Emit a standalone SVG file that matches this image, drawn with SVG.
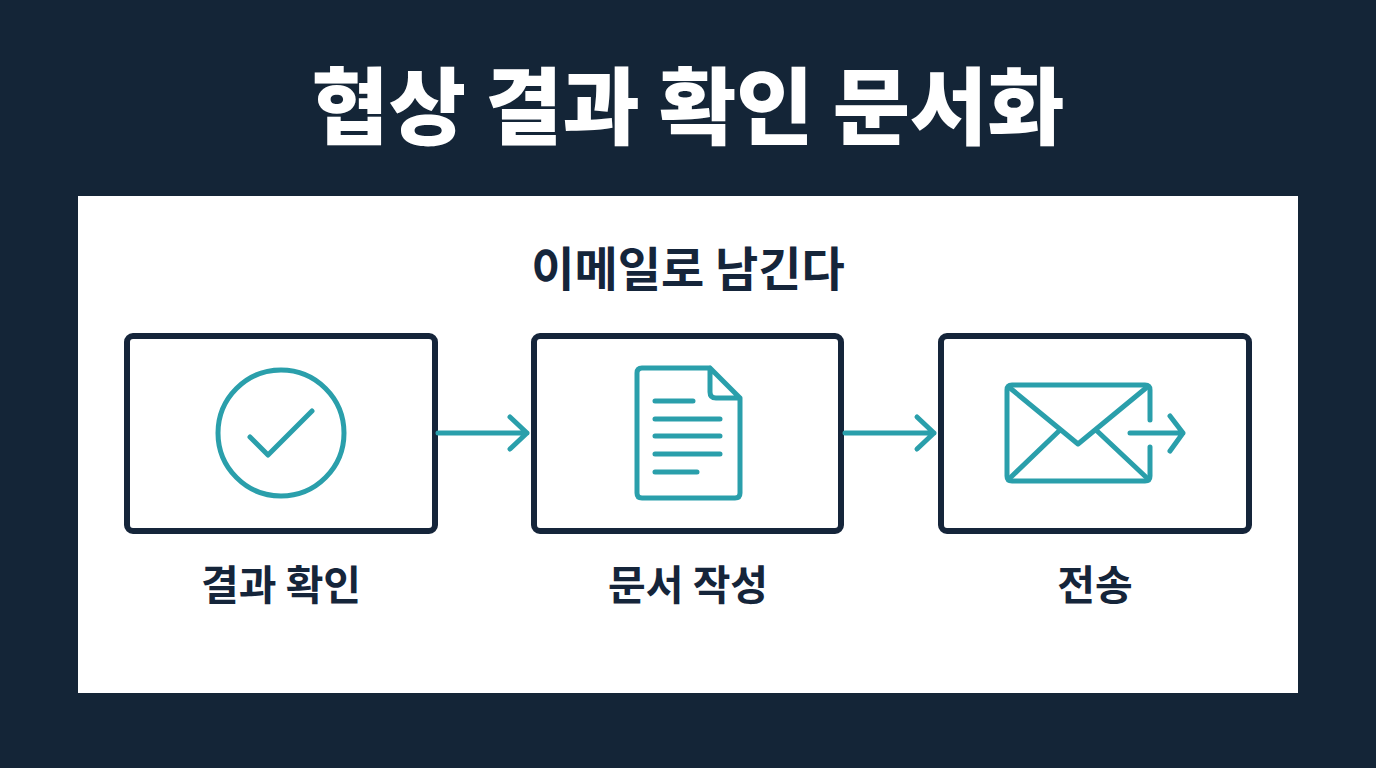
<svg xmlns="http://www.w3.org/2000/svg" width="1376" height="768" viewBox="0 0 1376 768">
<style>
.t{font-family:"Noto Sans CJK KR","Noto Sans",sans-serif;font-weight:700;fill:#15253a;text-anchor:middle}
.box{fill:#fff;stroke:#15253a;stroke-width:6}
.ic{fill:none;stroke:#2a9fab;stroke-width:5;stroke-linecap:round;stroke-linejoin:round}
</style>
<rect width="1376" height="768" fill="#142537"/>
<text x="688" y="138" class="t" style="fill:#fff;font-size:84px;font-weight:900">협상 결과 확인 문서화</text>
<rect x="78" y="196" width="1220" height="497" fill="#fff"/>
<text x="688" y="286" class="t" style="font-size:47px">이메일로 남긴다</text>
<g id="n1"><rect class="box" x="127" y="336" width="308" height="195" rx="6"/>
<circle class="ic" cx="281" cy="433" r="63"/><path class="ic" d="M250 437L268 455L312 411"/>
<text x="281" y="600" class="t" style="font-size:41px">결과 확인</text></g>
<g id="n2"><rect class="box" x="534" y="336" width="307" height="195" rx="6"/>
<path class="ic" d="M710 368H642Q637 368 637 373V493Q637 498 642 498H735Q740 498 740 493V398L710 368V392Q710 398 716 398H740"/>
<path class="ic" d="M655 401H693M655 419H720M655 436H720M655 454H720M655 472H697"/>
<text x="688" y="600" class="t" style="font-size:41px">문서 작성</text></g>
<g id="n3"><rect class="box" x="941" y="336" width="308" height="195" rx="6"/>
<path class="ic" d="M1150 420V390Q1150 385 1145 385H1012Q1007 385 1007 390V476Q1007 481 1012 481H1145Q1150 481 1150 476V447"/>
<path class="ic" d="M1010 388L1078 444L1146 388M1010 478L1060 430M1147 478L1096 430M1130 433H1183M1170 416L1183 433L1170 451"/>
<text x="1095" y="600" class="t" style="font-size:41px">전송</text></g>
<g id="connectors">
<path class="ic" d="M438 433H527M510 417L527 433L510 449"/>
<path class="ic" d="M845 433H934M917 417L934 433L917 449"/>
</g>
</svg>
